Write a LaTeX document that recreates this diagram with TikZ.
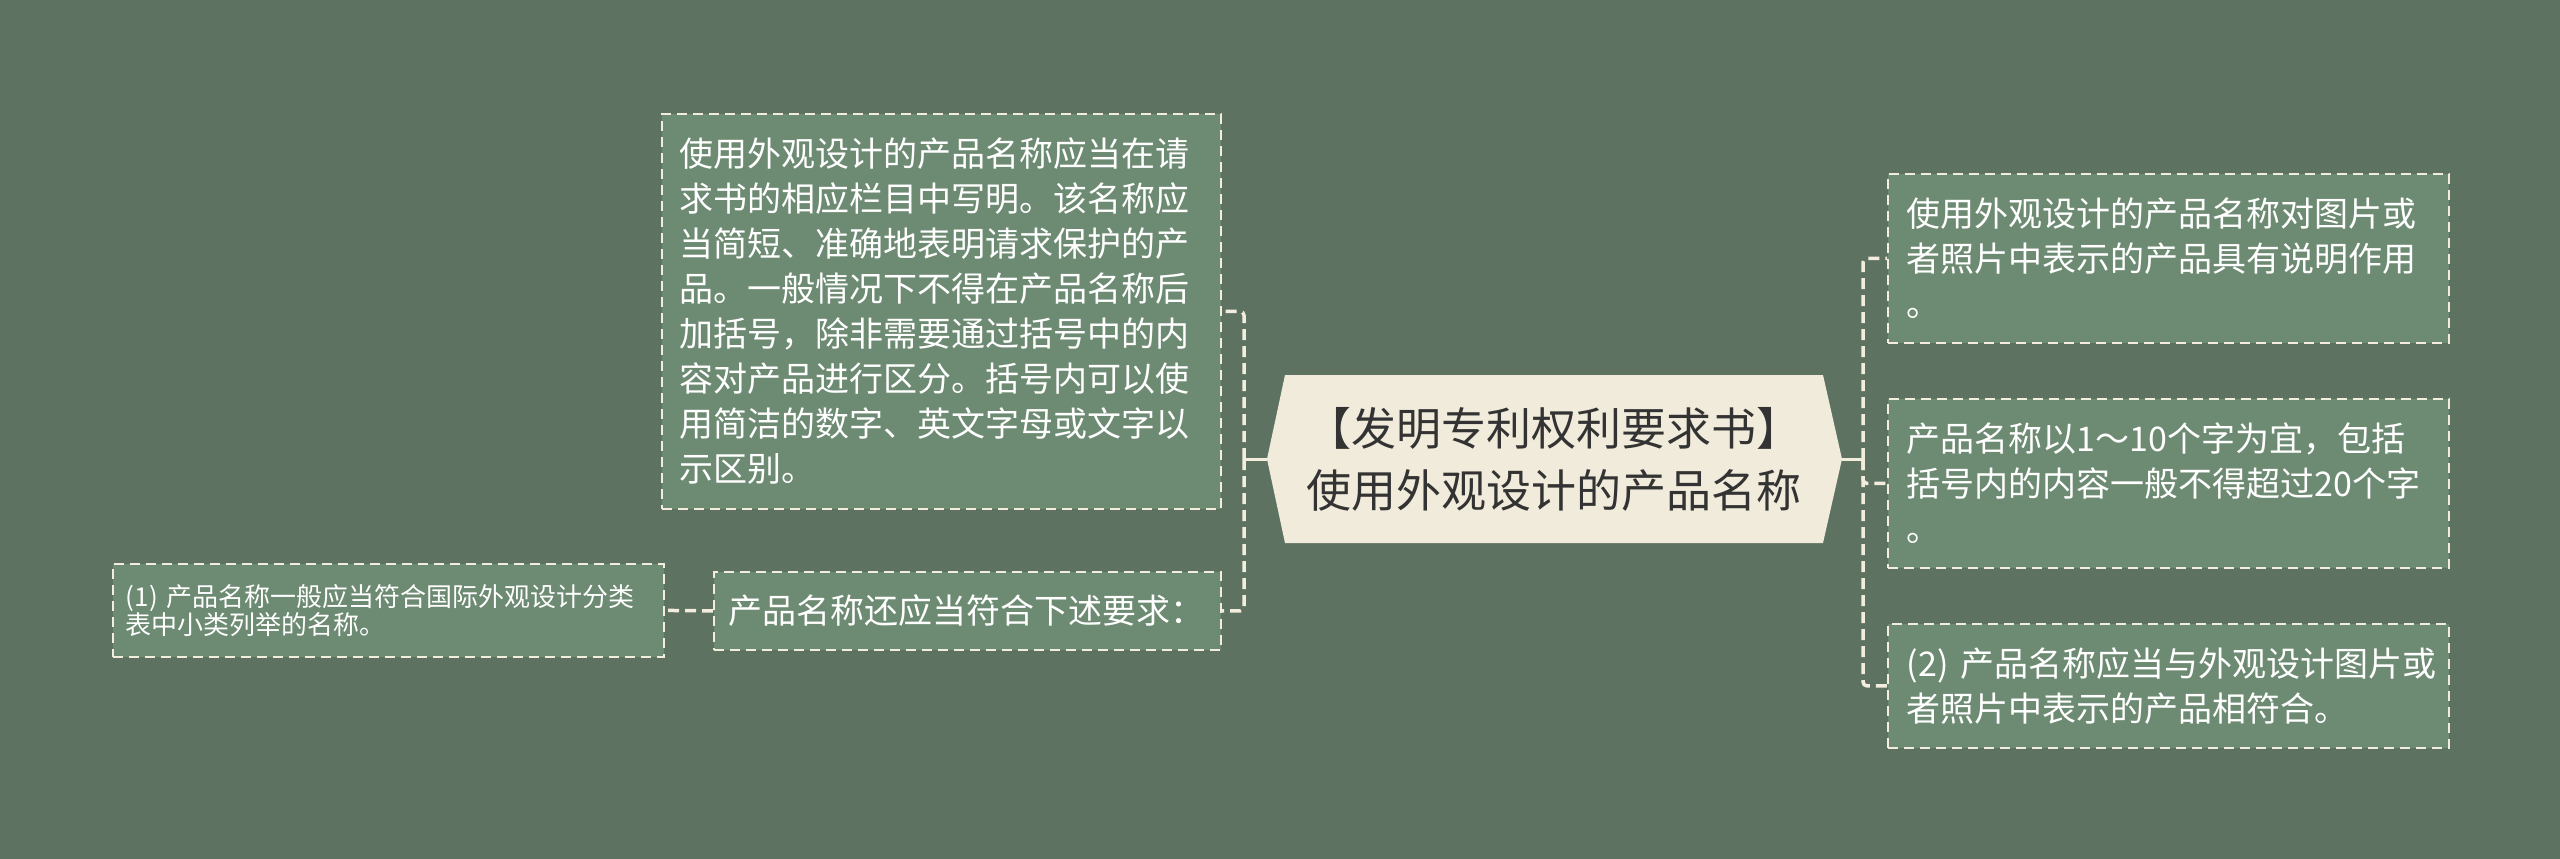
\documentclass[tikz,border=0pt]{standalone}
\usepackage{fontspec}
\setmainfont{Noto Sans CJK SC}
\usetikzlibrary{calc}
\definecolor{bgc}{RGB}{94,114,98}
\definecolor{boxfill}{RGB}{109,138,114}
\definecolor{cream}{RGB}{242,237,220}
\definecolor{cfill}{RGB}{240,235,218}
\definecolor{ctext}{RGB}{51,51,51}
\begin{document}
\begin{tikzpicture}[x=1pt,y=-1pt,
  leaf/.style={draw=cream, fill=boxfill, line width=1.8pt, dash pattern=on 10pt off 6pt,
    text=white, align=left, anchor=north west, inner ysep=0pt,
    font=\fontsize{34}{45}\selectfont},
  conn/.style={draw=cream, line width=3.5pt, dash pattern=on 11pt off 6pt, rounded corners=4pt},
  trunk/.style={draw=cream, line width=3pt},
  hub/.style={text=ctext, align=center, inner sep=0pt, font=\fontsize{45}{62}\selectfont,
    minimum width=538pt, minimum height=168pt},
]
\fill[bgc] (0,0) rectangle (2560,859);
\useasboundingbox (0,0) rectangle (2560,859);

% central topic
\fill[cfill] (1267,459) -- (1285,375) -- (1823,375) -- (1842,459) -- (1823,543) -- (1285,543) -- cycle;
\node[hub] (C) at (1554,459) {【发明专利权利要求书】\\使用外观设计的产品名称};
\coordinate (cL) at (1267,459);
\coordinate (cR) at (1842,459);
\coordinate (jL) at (1244,459);
\coordinate (jR) at (1863,459);

% left side
\node[leaf, minimum width=559pt, minimum height=395pt, text width=523pt, inner xsep=18pt] (L1) at (661,113)
 {使用外观设计的产品名称应当在请\\求书的相应栏目中写明。该名称应\\当简短、准确地表明请求保护的产\\品。一般情况下不得在产品名称后\\加括号，除非需要通过括号中的内\\容对产品进行区分。括号内可以使\\用简洁的数字、英文字母或文字以\\示区别。};
\node[leaf, minimum width=507pt, minimum height=78pt, text width=477pt, inner xsep=15pt] (L2) at (713,571)
 {产品名称还应当符合下述要求：};
\node[leaf, minimum width=551pt, minimum height=93pt, text width=525pt, inner xsep=13pt,
  font=\fontsize{26}{28}\selectfont] (L3) at (112,563)
 {(1)~产品名称一般应当符合国际外观设计分类\\表中小类列举的名称。};

% right side
\node[leaf, minimum width=561pt, minimum height=169pt, text width=523pt, inner xsep=19pt] (R1) at (1887,173)
 {使用外观设计的产品名称对图片或\\者照片中表示的产品具有说明作用\\。};
\node[leaf, minimum width=561pt, minimum height=169pt, text width=523pt, inner xsep=19pt] (R2) at (1887,398)
 {产品名称以1～10个字为宜，包括\\括号内的内容一般不得超过20个字\\。};
\node[leaf, minimum width=561pt, minimum height=124pt, text width=523pt, inner xsep=19pt] (R3) at (1887,623)
 {(2)~产品名称应当与外观设计图片或\\者照片中表示的产品相符合。};

% connectors
\draw[conn] (jL) |- (L1.east);
\draw[conn] (jL) |- (L2.east);
\draw[conn] (L2.west) -- (L3.east);
\draw[trunk] (cL) -- (jL);
\draw[trunk] ($(jL)+(0,-8)$) -- ($(jL)+(0,8)$);

\draw[conn] (jR) |- (R1.west);
\draw[conn] (jR) |- (R2.west);
\draw[conn] (jR) |- (R3.west);
\draw[trunk] (cR) -- (jR);
\draw[trunk] ($(jR)+(0,-8)$) -- ($(jR)+(0,8)$);
\end{tikzpicture}
\end{document}
